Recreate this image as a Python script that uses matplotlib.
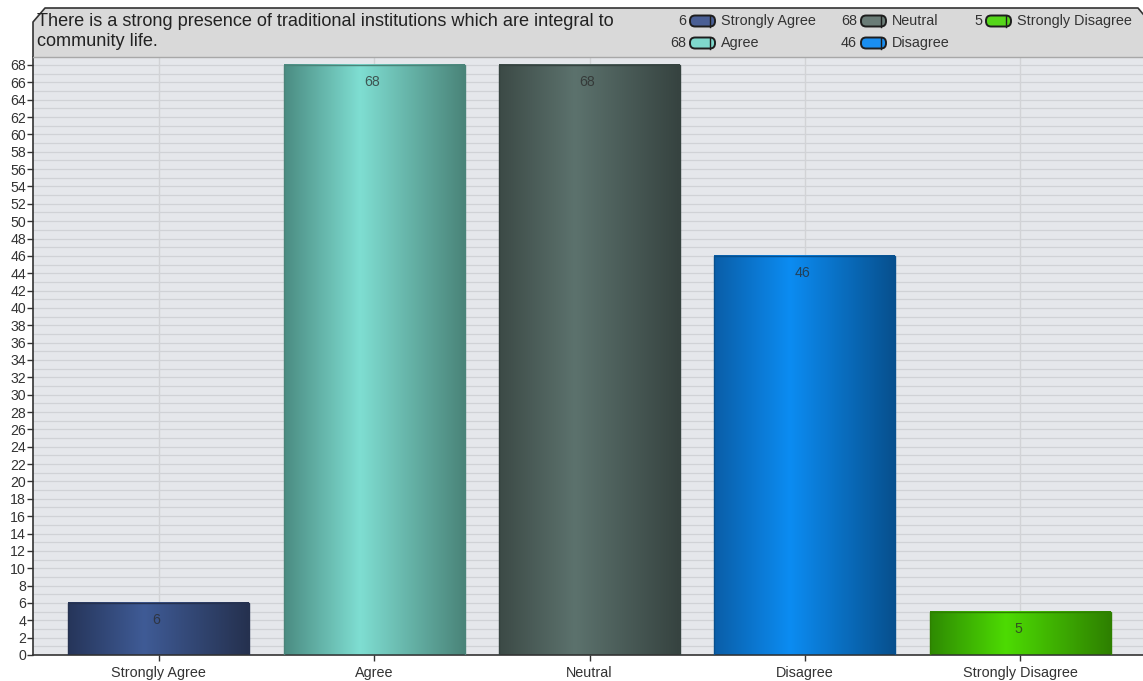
import matplotlib
matplotlib.use("Agg")
import matplotlib.pyplot as plt
import numpy as np
from matplotlib.colors import LinearSegmentedColormap
from matplotlib.patches import Polygon, FancyBboxPatch
from matplotlib.lines import Line2D

categories = ["Strongly Agree", "Agree", "Neutral", "Disagree", "Strongly Disagree"]
values = [6, 68, 68, 46, 5]
title = "There is a strong presence of traditional institutions which are integral to\ncommunity life."
yticks = list(range(0, 69, 2))

grad_colors = [
    ("#26355a", "#3f5b96", "#25314f"),
    ("#4b8c82", "#7fded2", "#4a8479"),
    ("#3c4a46", "#5c726d", "#364340"),
    ("#0a5ea8", "#0c8cf2", "#07508e"),
    ("#2e8a02", "#4ddb03", "#2e8000"),
]
swatch_colors = ["#4a5f95", "#7fd8cc", "#6a7c77", "#1a8ef0", "#55d61a"]

plt.rcParams['font.family'] = ['Liberation Sans', 'DejaVu Sans']

W, H = 1143, 681
fig = plt.figure(figsize=(W / 100, H / 100), dpi=100)
fig.patch.set_facecolor("white")

def fx(px):
    return px / W

def fy(py):
    return 1 - py / H

ax = fig.add_axes([fx(33), fy(655), fx(1143) - fx(33), fy(57) - fy(655)])
ax.set_facecolor("#e5e7eb")
ax.set_xlim(-0.584, 4.57)
ax.set_ylim(0, 68.92)

# grid
for yv in range(0, 69):
    ax.axhline(yv, color="#d0d2d6", lw=0.9, zorder=0.5)
x = np.arange(len(categories))
for xv in x:
    ax.axvline(xv, color="#d2d3d6", lw=1.0, zorder=0.6)

bw = 0.84
for i, (xi, v) in enumerate(zip(x, values)):
    c0, c1, c2 = grad_colors[i]
    cmap = LinearSegmentedColormap.from_list("g%d" % i, [(0, c0), (0.42, c1), (1, c2)])
    grad = np.linspace(0, 1, 256).reshape(1, -1)
    ax.imshow(grad, cmap=cmap, aspect="auto", extent=[xi - bw / 2, xi + bw / 2, 0, v],
              zorder=2, interpolation="bilinear")
ax.bar(x, values, width=bw, facecolor="none",
       edgecolor=[g[2] for g in grad_colors], lw=1.0, zorder=3)
for xi, v in zip(x, values):
    ax.text(xi - 0.01, v - 1.95, str(v), ha="center", va="center", fontsize=10.2,
            color="#2a2a2a", alpha=0.75, zorder=4)

ax.set_xticks(x)
ax.set_xticklabels(categories, fontsize=10.4, color="#333333")
ax.set_yticks(yticks)
ax.set_yticklabels([str(t) for t in yticks], fontsize=10.2, color="#333333")
ax.tick_params(axis="y", length=4, width=1, color="#333333", pad=1)
ax.tick_params(axis="x", length=4, width=1, color="#333333", pad=4)
for s in ["top", "right"]:
    ax.spines[s].set_visible(False)
for s in ["left", "bottom"]:
    ax.spines[s].set_color("#333333")
    ax.spines[s].set_linewidth(1.2)
ax.set_xlim(-0.584, 4.57)

# header box
pts = [(33, 57), (33, 22), (45, 8), (1138, 8), (1143, 14), (1143, 57)]
hdr = Polygon([(fx(a), fy(b)) for a, b in pts], closed=True, transform=fig.transFigure,
              facecolor="#d9d9d9", edgecolor="none", zorder=1)
fig.add_artist(hdr)
fig.add_artist(Line2D([fx(33), fx(33), fx(45), fx(1138), fx(1143)],
                      [fy(57), fy(22), fy(8), fy(8), fy(14)],
                      transform=fig.transFigure, color="#333333", lw=1.2))
fig.add_artist(Line2D([fx(33), fx(1143)], [fy(57), fy(57)], transform=fig.transFigure,
                      color="#a8a8a8", lw=1.0))
fig.text(fx(37), fy(21), title.split("\n")[0], fontsize=13.1, color="#222222", va="center", ha="left")
fig.text(fx(37), fy(42), title.split("\n")[1], fontsize=13.1, color="#222222", va="center", ha="left")

# legend
leg_pos = [(689, 21), (689, 43), (860, 21), (860, 43), (985, 21)]
for i, ((sx, sy), cat, v) in enumerate(zip(leg_pos, categories, values)):
    fig.text(fx(sx - 3), fy(sy), str(v), ha="right", va="center", fontsize=10.4, color="#333333")
    sw = FancyBboxPatch((fx(sx + 1), fy(sy + 5.5)), fx(25), (fy(sy - 5.5) - fy(sy + 5.5)),
                        boxstyle="round,pad=0,rounding_size=0.0045",
                        transform=fig.transFigure, facecolor=swatch_colors[i],
                        edgecolor="#1e1e1e", lw=1.4, mutation_aspect=1.68)
    fig.add_artist(sw)
    fig.add_artist(Line2D([fx(sx + 21), fx(sx + 21)], [fy(sy + 5.5), fy(sy - 5.5)],
                          transform=fig.transFigure, color="#1e1e1e", lw=1.0))
    fig.text(fx(sx + 32), fy(sy), cat, ha="left", va="center", fontsize=10.4, color="#333333")

fig.savefig("out.png", dpi=100)
